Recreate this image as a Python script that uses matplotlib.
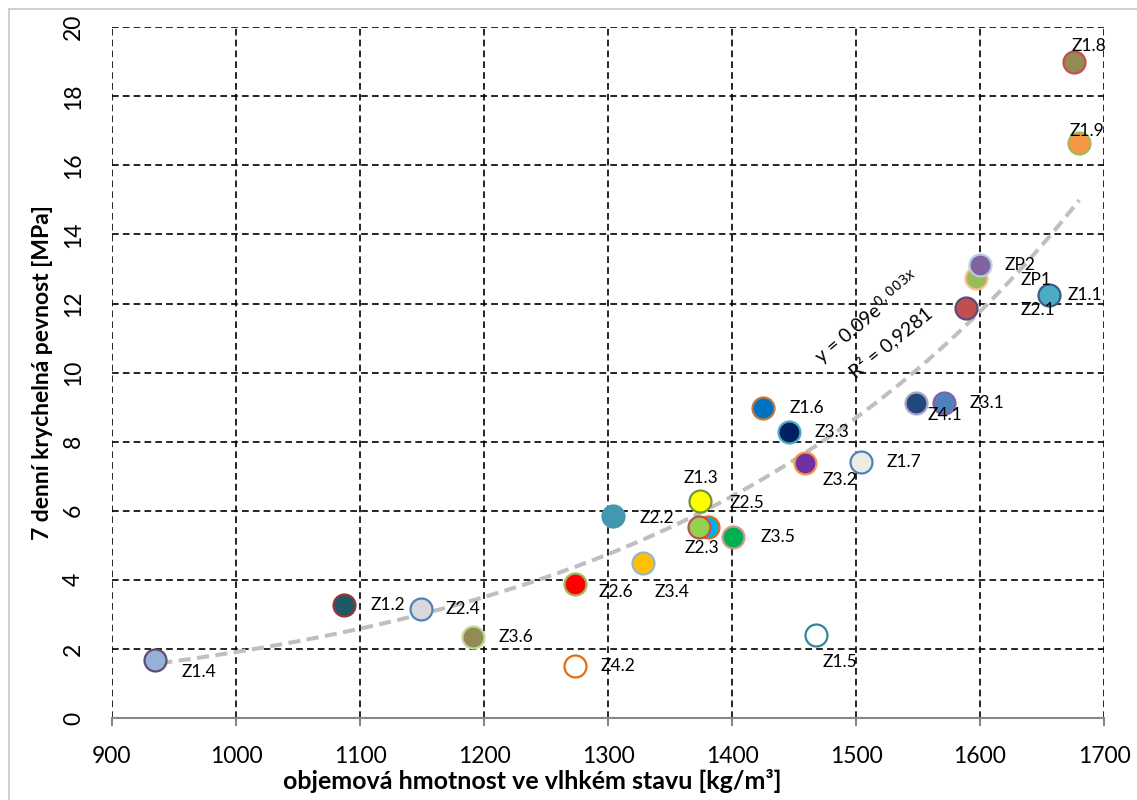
import numpy as np
import matplotlib.pyplot as plt

plt.rcParams['font.family'] = ['Lato', 'DejaVu Sans']

# data
labels = ['Z1.1', 'Z1.2', 'Z1.3', 'Z1.4', 'Z1.5', 'Z1.6', 'Z1.7', 'Z1.8', 'Z1.9',
          'Z2.1', 'Z2.2', 'Z2.3', 'Z2.4', 'Z2.5', 'Z2.6',
          'Z3.1', 'Z3.2', 'Z3.3', 'Z3.4', 'Z3.5', 'Z3.6',
          'Z4.1', 'Z4.2', 'ZP1', 'ZP2']
density = [1656, 1087, 1374, 935, 1468, 1425, 1504, 1676, 1680,
           1589, 1304, 1373, 1149, 1381, 1273,
           1571, 1459, 1446, 1328, 1401, 1191,
           1548, 1273, 1597, 1600]
strength = [12.24, 3.27, 6.28, 1.68, 2.40, 8.97, 7.41, 18.99, 16.64,
            11.87, 5.85, 5.53, 3.15, 5.53, 3.88,
            9.12, 7.38, 8.28, 4.50, 5.24, 2.34,
            9.12, 1.50, 12.74, 13.11]

# exponential trendline as drawn in the chart (y = a * e^(b*x))
trend_a = 0.0923
trend_b = 0.00303
trend_range = (939, 1680)
trend_eq = 'y = 0,09e$^{0,003x}$'
trend_r2 = 'R² = 0,9281'

# marker face / edge colours
faces = ['#4BACC6', '#215868', '#FFFF00', '#95B3D7', '#FFFFFF', '#0070C0', '#EEECE1', '#948A54', '#F79646',
         '#C0504D', '#4198AF', '#92D050', '#D9D9D9', '#00B0F0', '#FF0000',
         '#4F81BD', '#7030A0', '#002060', '#FFC000', '#00B050', '#948A54',
         '#1F497D', '#FFFFFF', '#9BBB59', '#8064A2']
edges = ['#385D8A', '#953735', '#76923C', '#604A7B', '#31859C', '#C0783C', '#4F81BD', '#C0504D', '#9BBB59',
         '#604A7B', '#4198AF', '#C0504D', '#4F81BD', '#E46C0A', '#9BBB59',
         '#8064A2', '#F79646', '#4BACC6', '#95B3D7', '#D99694', '#C3D69B',
         '#B3A2C7', '#E46C0A', '#FAC090', '#B9CDE5']
# label offsets in pixels (right, down)
offsets = [(18, 0), (27, 0), (-16, -23), (26, 12), (6, 27), (27, 0), (26, 0), (-3, -16), (-10, -12),
           (54, 2), (27, 2), (-14, 21), (25, 0), (21, -24), (24, 8),
           (26, 0), (17, 17), (26, 0), (12, 29), (27, 0), (26, 0),
           (12, 12), (26, 0), (44, 2), (25, 0)]

# draw order so overlapping markers look like the original
order = [10, 12, 1, 3, 20, 14, 22, 18, 13, 11, 2, 19, 5, 17, 16, 6, 4,
         21, 15, 9, 23, 24, 0, 7, 8]

fig = plt.figure(figsize=(11.37, 8), dpi=100)
ax = fig.add_axes([0.0985, 0.1025, 0.8725, 0.8635])

x = np.array(density, dtype=float)
y = np.array(strength, dtype=float)

xt = np.linspace(trend_range[0], trend_range[1], 200)
ax.plot(xt, trend_a * np.exp(trend_b * xt), color='#BFBFBF', lw=2.9,
        ls=(0, (3, 1.6)), zorder=2)

for i in order:
    ax.scatter(x[i], y[i], s=250, color=faces[i], edgecolors=edges[i],
               linewidths=1.6, zorder=3)
for i in range(len(labels)):
    dx, dy = offsets[i]
    ax.annotate(labels[i], (x[i], y[i]), xytext=(dx * 0.72, -dy * 0.72),
                textcoords='offset points', ha='left', va='center',
                fontsize=12.5, zorder=4)

ax.text(1509, 11.6, trend_eq, fontsize=14, rotation=40,
        ha='center', va='center', rotation_mode='anchor', zorder=4)
ax.text(1528, 10.88, trend_r2, fontsize=14, rotation=39,
        ha='center', va='center', rotation_mode='anchor', zorder=4)

ax.set_xlim(900, 1700)
ax.set_ylim(0, 20)
ax.set_xticks(np.arange(900, 1701, 100))
ax.set_yticks(np.arange(0, 21, 2))
ax.grid(True, color='black', ls=(0, (4, 2.5)), lw=1.2)
ax.set_axisbelow(True)
for s in ['top', 'right', 'left']:
    ax.spines[s].set_visible(False)
ax.spines['bottom'].set_color('#878787')
ax.spines['bottom'].set_linewidth(1.5)
ax.tick_params(axis='x', colors='#878787', length=6, width=1.5, labelsize=16.5,
               labelcolor='black', pad=14)
ax.tick_params(axis='y', length=0, labelsize=16.5, pad=20)
for t in ax.get_yticklabels():
    t.set_rotation(90)
    t.set_va('center')

ax.set_xlabel('objemová hmotnost ve vlhkém stavu [kg/m³]', fontsize=18,
              fontweight='bold')
ax.xaxis.set_label_coords(0.424, -0.074)
ax.set_ylabel('7 denní krychelná pevnost [MPa]', fontsize=16.5,
              fontweight='bold', labelpad=7)

# chart area border (left and top edges visible)
fig.add_artist(plt.Line2D([8.5 / 1137, 8.5 / 1137], [0, 1 - 8.5 / 800],
                          transform=fig.transFigure, color='#C8C8C8', lw=1.2))
fig.add_artist(plt.Line2D([8.5 / 1137, 1], [1 - 8.5 / 800, 1 - 8.5 / 800],
                          transform=fig.transFigure, color='#C8C8C8', lw=1.2))

fig.savefig('out.png', dpi=100)
